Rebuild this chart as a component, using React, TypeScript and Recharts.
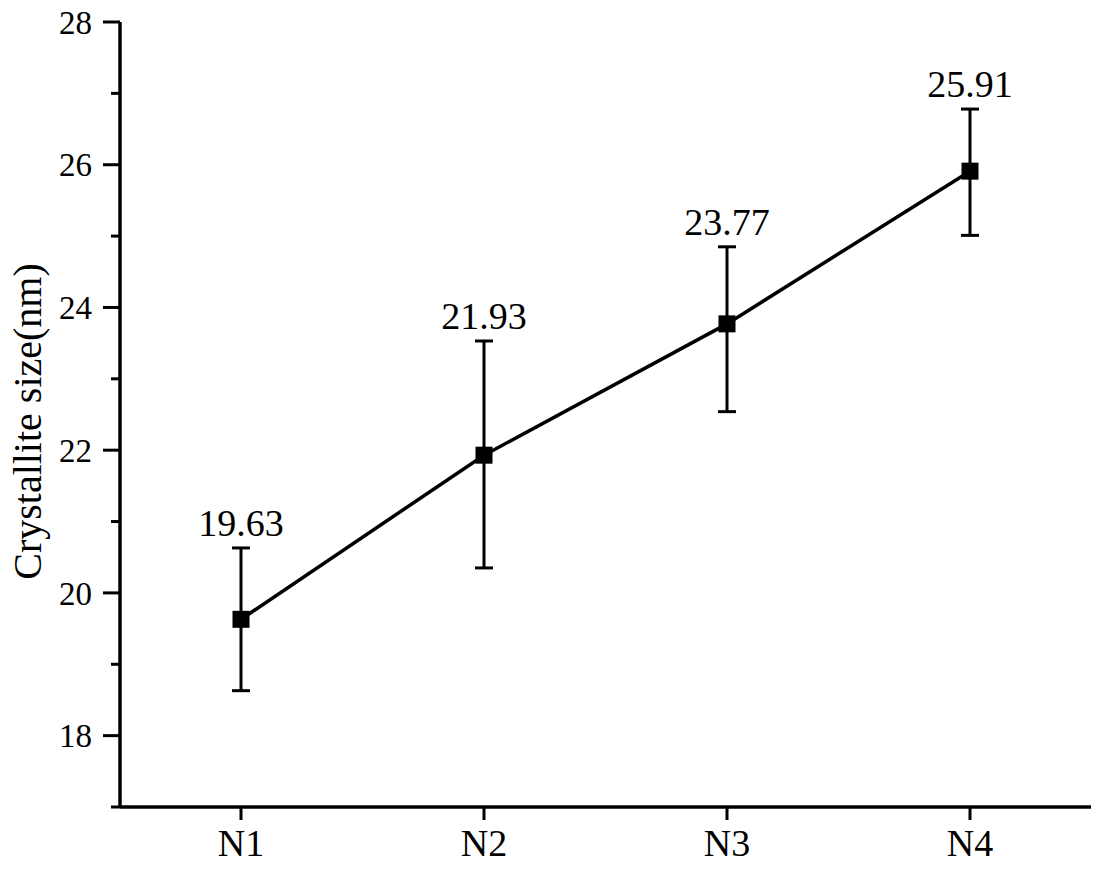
import { ErrorBar, LabelList, Line, LineChart, XAxis, YAxis } from 'recharts'

const SAMPLES = ['N1', 'N2', 'N3', 'N4']
const CRYSTALLITE_SIZE = [19.63, 21.93, 23.77, 25.91]
// [below, above] the mean, in nm
const SIZE_ERROR: [number, number][] = [
  [1.0, 1.0],
  [1.58, 1.6],
  [1.23, 1.08],
  [0.9, 0.87],
]
const Y_TICKS = [17, 18, 19, 20, 21, 22, 23, 24, 25, 26, 27, 28]

const FONT = 'Liberation Serif, Times New Roman, serif'
const INK = '#000'

const data = SAMPLES.map((name, i) => ({
  name,
  size: CRYSTALLITE_SIZE[i],
  err: SIZE_ERROR[i],
}))

// top of each error bar, used only to anchor the value labels
const labelAnchor = (d: { size: number; err: [number, number] }) => d.size + d.err[1]

function YTick({ x, y, payload }: any) {
  const major = payload.value % 2 === 0
  return (
    <g>
      <line x1={x} x2={x - (major ? 17 : 9)} y1={y} y2={y} stroke={INK} strokeWidth={3} />
      {major && (
        <text
          x={x - 28}
          y={y}
          dy="0.355em"
          textAnchor="end"
          style={{ fontFamily: FONT, fontSize: 33 }}
          fill={INK}
        >
          {payload.value}
        </text>
      )}
    </g>
  )
}

function SquareDot({ cx, cy, index }: any) {
  return <rect key={`dot-${index}`} x={cx - 8.5} y={cy - 8.5} width={17} height={17} fill={INK} />
}

function YLabel({ viewBox }: any) {
  const cx = viewBox.x + 41
  const cy = viewBox.y + viewBox.height / 2 + 7
  return (
    <text
      transform={`translate(${cx},${cy}) rotate(-90)`}
      textAnchor="middle"
      style={{ fontFamily: FONT, fontSize: 40 }}
      fill={INK}
    >
      Crystallite size(nm)
    </text>
  )
}

export default function App() {
  return (
    <div style={{ width: 1106, height: 872, background: '#fff', fontFamily: FONT }}>
      <style>{'body{margin:0}'}</style>
      <LineChart
        width={1106}
        height={872}
        data={data}
        margin={{ top: 22, right: 15, bottom: 0, left: 0 }}
        style={{ fontFamily: FONT }}
      >
        <XAxis
          dataKey="name"
          height={65}
          padding={{ left: 121, right: 121 }}
          axisLine={{ stroke: INK, strokeWidth: 3.5 }}
          tickLine={{ stroke: INK, strokeWidth: 3 }}
          tickSize={13}
          tickMargin={9}
          tick={{ fill: INK, fontSize: 38, style: { fontFamily: FONT } }}
        />
        <YAxis
          width={120}
          domain={[17, 28]}
          ticks={Y_TICKS}
          interval={0}
          allowDataOverflow
          axisLine={{ stroke: INK, strokeWidth: 3.5 }}
          tickLine={false}
          tickSize={0}
          tickMargin={0}
          tick={<YTick />}
          label={{ content: <YLabel /> }}
        />
        <Line
          dataKey="size"
          stroke={INK}
          strokeWidth={3.5}
          dot={<SquareDot />}
          activeDot={false}
          isAnimationActive={false}
        >
          <ErrorBar dataKey="err" width={9} stroke={INK} strokeWidth={3} direction="y" />
        </Line>
        <Line
          dataKey={labelAnchor}
          stroke="none"
          dot={false}
          activeDot={false}
          isAnimationActive={false}
        >
          <LabelList
            dataKey="size"
            position="top"
            offset={12}
            fill={INK}
            fontSize={38}
            style={{ fontFamily: FONT }}
          />
        </Line>
      </LineChart>
    </div>
  )
}
